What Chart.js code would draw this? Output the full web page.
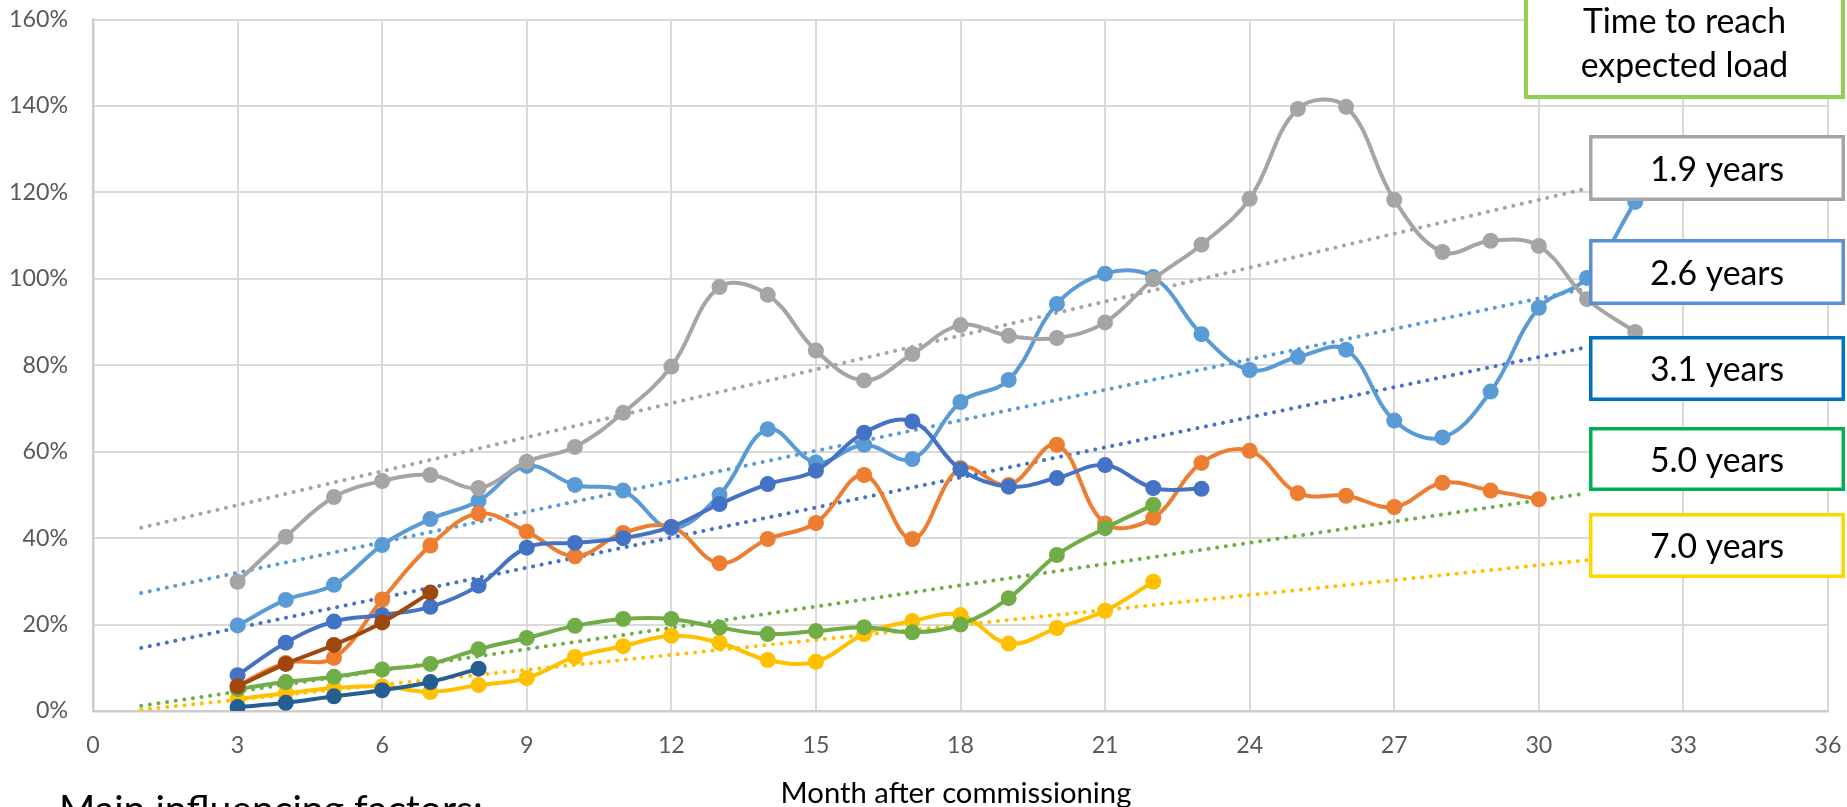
<!DOCTYPE html>
<html>
<head>
<meta charset="utf-8">
<script src="https://cdn.jsdelivr.net/npm/chart.js@4.4.1/dist/chart.umd.min.js"></script>
<style>
  html, body { margin: 0; padding: 0; background: #ffffff; overflow: hidden; }
  #wrap { position: relative; width: 1847px; height: 807px; }
</style>
</head>
<body>
<div id="wrap"><canvas id="load" width="1847" height="807"></canvas></div>
<script>
// Load relative to expected load (%), by month after commissioning
const monthsA = [3,4,5,6,7,8,9,10,11,12,13,14,15,16,17,18,19,20,21,22,23,24,25,26,27,28,29,30,31,32];

const grayLoad = [29.9,40.3,49.5,53.2,54.6,51.6,57.7,61.1,69.0,79.7,98.1,96.3,83.4,76.5,82.6,89.3,86.8,86.3,89.9,99.9,107.9,118.5,139.3,139.8,118.3,106.2,108.8,107.6,95.3,87.7];
const lightBlueLoad = [19.8,25.7,29.2,38.4,44.4,48.6,56.7,52.3,51.0,42.3,50.0,65.2,57.5,61.6,58.3,71.5,76.6,94.2,101.2,100.4,87.2,78.9,81.9,83.6,67.2,63.3,73.9,93.3,100.2,117.8];
const blueLoad = [8.3,15.8,20.7,22.2,24.1,29.0,37.8,38.9,40.0,42.6,47.9,52.5,55.6,64.4,67.0,55.9,51.9,53.9,56.9,51.6,51.4];
const orangeLoad = [5.9,11.1,12.3,25.8,38.3,45.7,41.5,35.8,41.2,42.6,34.2,39.8,43.5,54.6,39.8,56.2,52.3,61.6,43.4,44.7,57.4,60.2,50.4,49.8,47.2,52.8,51.0,49.0];
const brownLoad = [5.7,10.9,15.3,20.5,27.4];
const greenLoad = [5.1,6.7,7.9,9.6,10.9,14.3,16.9,19.7,21.3,21.3,19.3,17.8,18.5,19.4,18.2,20.0,26.1,36.1,42.3,47.7];
const navyLoad = [0.9,1.9,3.4,4.8,6.7,9.8];
const yellowLoad = [2.8,4.1,5.3,5.7,4.4,6.0,7.6,12.5,15.0,17.4,15.8,11.8,11.4,17.8,20.8,22.2,15.6,19.2,23.2,29.9];

// Linear trend lines (start and end month, value at each end)
const trendMonths = [1, 31];
const grayTrend = [42.4, 120.9];
const lightBlueTrend = [27.3, 97.8];
const blueTrend = [14.6, 84.2];
const greenTrend = [1.2, 50.4];
const yellowTrend = [0.3, 34.9];

// Axis ticks
const xTickStep = 3;
const xRange = [0, 36];
const yTickStep = 20;
const yRange = [0, 160];

// Annotation texts
const headerLines = ['Time to reach', 'expected load'];
const durationLabels = ['1.9 years', '2.6 years', '3.1 years', '5.0 years', '7.0 years'];
const axisTitle = 'Month after commissioning';
const footNote = 'Main influencing factors:';

// ---------------------------------------------------------------
const FONT = 'Lato';
const measureCtx = document.createElement('canvas').getContext('2d');
function fitSize(text, width) {
  measureCtx.font = '100px ' + FONT;
  return 100 * width / measureCtx.measureText(text).width;
}
const tickSize = fitSize('160%', 59);
const titleSize = fitSize(axisTitle, 351);
const noteSize = fitSize(footNote, 424);
const boxSize = (fitSize('1.9 years', 133) + fitSize('Time to reach', 205)) / 2;

// Plot frame inside the canvas
const frame = { left: 93, right: 1828, top: 19.5, bottom: 711 };

function pts(xs, ys) { return ys.map((v, i) => ({ x: xs[i], y: v })); }

function series(ys, color) {
  return {
    data: pts(monthsA, ys),
    borderColor: color,
    backgroundColor: color,
    borderWidth: 4,
    pointRadius: 8,
    pointHoverRadius: 8,
    pointBorderWidth: 0,
    pointBackgroundColor: color,
    tension: 0.38,
    fill: false
  };
}
function trend(ys, color) {
  return {
    data: pts(trendMonths, ys),
    borderColor: color,
    borderWidth: 4,
    borderDash: [0.1, 8.6],
    borderCapStyle: 'round',
    pointRadius: 0,
    tension: 0,
    fill: false
  };
}

// First dataset is painted last (on top)
const datasets = [
  series(brownLoad, '#9E480E'),
  series(navyLoad, '#255E91'),
  series(greenLoad, '#70AD47'),
  series(grayLoad, '#A5A5A5'),
  series(yellowLoad, '#FFC000'),
  series(blueLoad, '#4472C4'),
  series(orangeLoad, '#ED7D31'),
  series(lightBlueLoad, '#5B9BD5'),
  trend(grayTrend, '#A5A5A5'),
  trend(lightBlueTrend, '#5B9BD5'),
  trend(blueTrend, '#4472C4'),
  trend(greenTrend, '#70AD47'),
  trend(yellowTrend, '#FFC000')
];

// Boxes with the time needed to reach the expected load
const headerBox = { left: 1524, right: 1845, top: -10, bottom: 99, color: '#92D050', width: 4, baselines: [33, 77] };
const durationBoxes = {
  left: 1589, right: 1845,
  tops: [135, 239, 336, 427, 513],
  bottoms: [201, 305, 401, 491, 578],
  colors: ['#A5A5A5', '#5A8ED5', '#0070C0', '#00B050', '#FFD700'],
  width: 3.5
};

const overlay = {
  id: 'overlay',
  afterDraw(chart) {
    const ctx = chart.ctx;
    ctx.save();
    ctx.fillStyle = '#000000';
    ctx.textBaseline = 'alphabetic';

    // x axis title
    ctx.font = titleSize + 'px ' + FONT;
    ctx.textAlign = 'center';
    ctx.fillText(axisTitle, 956, 803);

    // note below the chart
    ctx.font = noteSize + 'px ' + FONT;
    ctx.textAlign = 'left';
    const cap = ctx.measureText('M').actualBoundingBoxAscent;
    ctx.fillText(footNote, 59, 795 + cap);

    function box(l, t, r, b, color, w) {
      ctx.fillStyle = '#ffffff';
      ctx.fillRect(l, t, r - l, b - t);
      ctx.strokeStyle = color;
      ctx.lineWidth = w;
      ctx.strokeRect(l + w / 2, t + w / 2, r - l - w, b - t - w);
    }

    ctx.font = boxSize + 'px ' + FONT;
    ctx.textAlign = 'center';
    const boxCap = ctx.measureText('1').actualBoundingBoxAscent;

    // header box
    box(headerBox.left, headerBox.top, headerBox.right, headerBox.bottom, headerBox.color, headerBox.width);
    ctx.fillStyle = '#000000';
    const hx = (headerBox.left + headerBox.right) / 2;
    headerLines.forEach((s, i) => ctx.fillText(s, hx, headerBox.baselines[i]));

    // duration boxes
    const dx = (durationBoxes.left + durationBoxes.right) / 2;
    durationLabels.forEach((s, i) => {
      const t = durationBoxes.tops[i], b = durationBoxes.bottoms[i];
      box(durationBoxes.left, t, durationBoxes.right, b, durationBoxes.colors[i], durationBoxes.width);
      ctx.fillStyle = '#000000';
      ctx.fillText(s, dx, (t + b) / 2 + boxCap / 2);
    });
    ctx.restore();
  }
};

const layoutPadding = { top: frame.top, right: 1847 - frame.right, bottom: 0, left: 0 };

const chart = new Chart(document.getElementById('load'), {
  type: 'line',
  data: { datasets },
  plugins: [overlay],
  options: {
    responsive: false,
    animation: false,
    devicePixelRatio: 1,
    layout: { padding: layoutPadding },
    plugins: { legend: { display: false }, tooltip: { enabled: false } },
    elements: { line: { capBezierPoints: true } },
    scales: {
      x: {
        type: 'linear',
        min: xRange[0], max: xRange[1],
        afterFit(s) {
          s.height = 807 - frame.bottom;
          s.paddingLeft = 0; s.paddingRight = 0;
        },
        grid: { color: '#D9D9D9', lineWidth: 2, drawTicks: false },
        border: { color: '#CCCCCC', width: 2.5 },
        ticks: {
          stepSize: xTickStep,
          padding: 21,
          color: '#595959',
          font: { family: FONT, size: tickSize, lineHeight: 1.2 },
          maxRotation: 0
        }
      },
      y: {
        type: 'linear',
        min: yRange[0], max: yRange[1],
        afterFit(s) {
          s.width = frame.left;
          s.paddingTop = 0; s.paddingBottom = 0;
        },
        grid: { color: '#D9D9D9', lineWidth: 2, drawTicks: false },
        border: { color: '#CCCCCC', width: 2.5 },
        ticks: {
          stepSize: yTickStep,
          padding: 25,
          color: '#595959',
          font: { family: FONT, size: tickSize },
          callback: v => v + '%'
        }
      }
    }
  }
});

// Settle the layout padding so the plot frame lands where wanted
for (let k = 0; k < 4; k++) {
  const ca = chart.chartArea;
  layoutPadding.top = Math.max(0, layoutPadding.top + frame.top - ca.top);
  layoutPadding.right = Math.max(0, layoutPadding.right + ca.right - frame.right);
  chart.options.layout.padding = Object.assign({}, layoutPadding);
  chart.update();
}
</script>
</body>
</html>
